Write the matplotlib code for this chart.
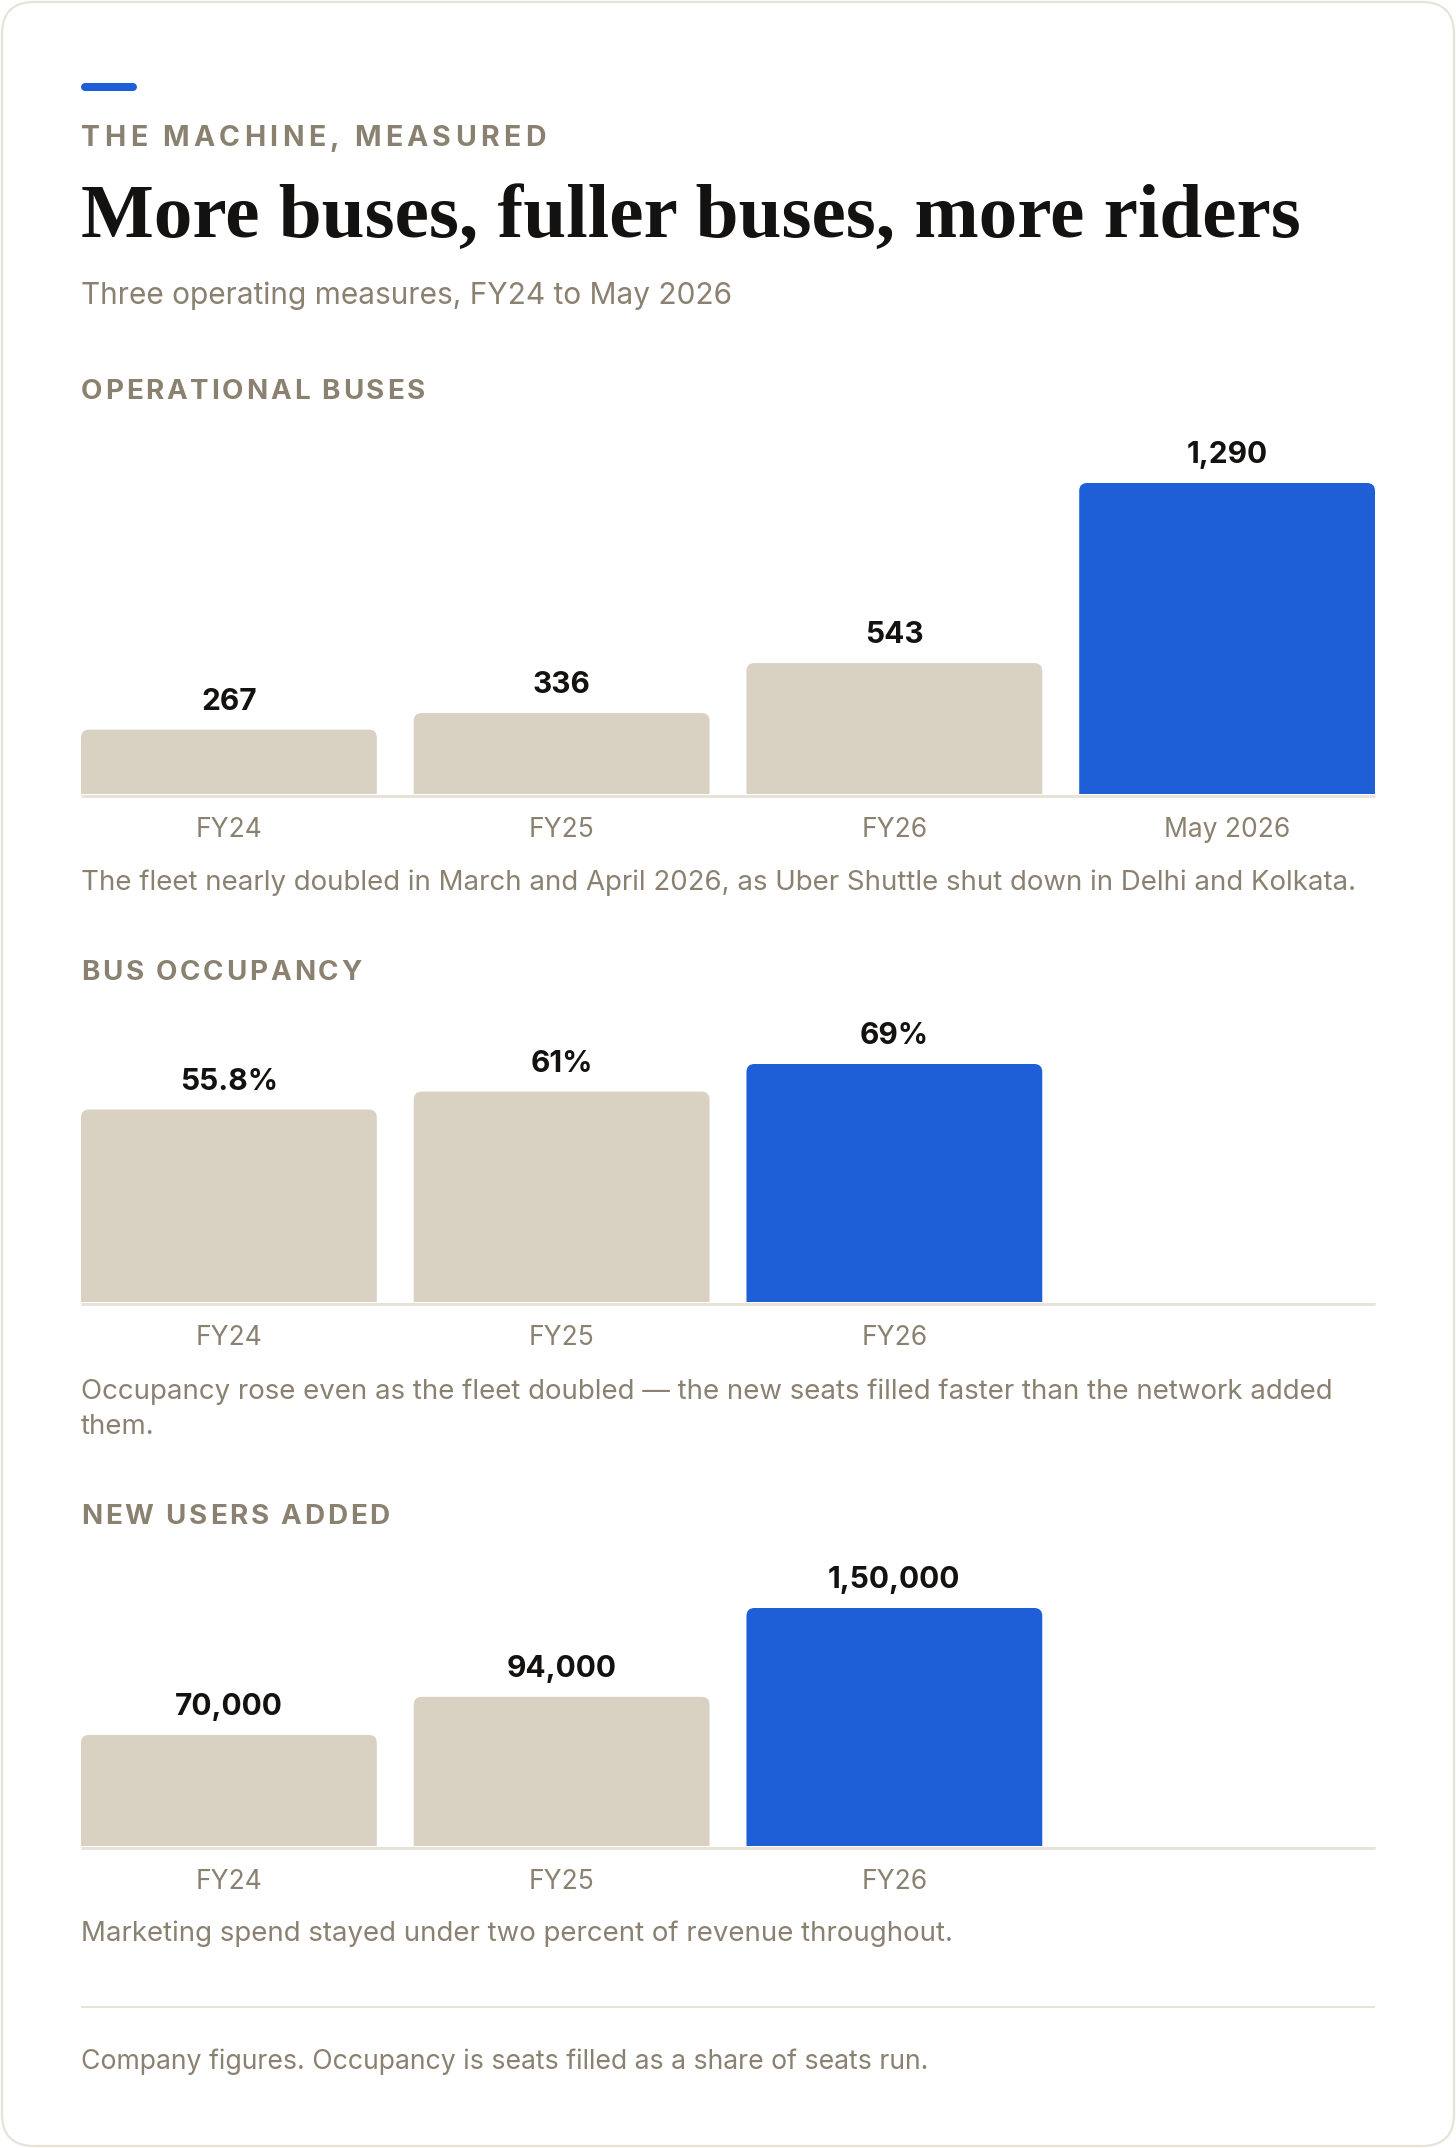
import matplotlib
matplotlib.use("Agg")
import matplotlib.pyplot as plt
from matplotlib.patches import FancyBboxPatch
from matplotlib.lines import Line2D
from matplotlib.transforms import IdentityTransform
from matplotlib.font_manager import FontProperties, findfont
from matplotlib.ft2font import FT2Font

try:
    from matplotlib.ft2font import LoadFlags
    NO_HINT = LoadFlags.NO_HINTING
except ImportError:
    from matplotlib.ft2font import LOAD_NO_HINTING as NO_HINT

# data
fleet_periods = ["FY24", "FY25", "FY26", "May 2026"]
buses = [267, 336, 543, 1290]
periods = ["FY24", "FY25", "FY26"]
occupancy = [55.8, 61, 69]
new_users = [70000, 94000, 150000]

W, H = 1456, 2148
BLUE = "#1e5fd8"
BEIGE = "#d9d1c2"
GREY = "#8b8171"
DARK = "#141210"
RULE = "#e8e3d9"
SANS = "Inter"

fig = plt.figure(figsize=(W / 100, H / 100), dpi=100)
fig.patch.set_facecolor("white")

# card outline
fig.add_artist(FancyBboxPatch((2, 2), W - 4, H - 4,
                              boxstyle="round,pad=0,rounding_size=32",
                              transform=IdentityTransform(),
                              fc="white", ec=RULE, lw=1.6, zorder=0))


def fy(px):
    return 1 - px / H


def indian(n):
    s = str(int(n))
    if len(s) <= 3:
        return s
    head, tail = s[:-3], s[-3:]
    groups = []
    while len(head) > 2:
        groups.insert(0, head[-2:])
        head = head[:-2]
    if head:
        groups.insert(0, head)
    return ",".join(groups + [tail])


def pct(v):
    return f"{v:g}%"


def spaced(x_px, base_px, s, size, track_em, weight="bold"):
    fp = FontProperties(family=SANS, weight=weight, size=size)
    font = FT2Font(findfont(fp))
    font.set_size(size, 100)
    x = x_px
    for ch in s:
        if ch != " ":
            fig.text(x / W, fy(base_px), ch, fontproperties=fp, color=GREY,
                     va="baseline", ha="left")
        adv = font.load_char(ord(ch), flags=NO_HINT).linearHoriAdvance / 65536
        x += adv + track_em * size * 100 / 72


def hline(y_px, lw_px, x0=81, x1=1375):
    fig.add_artist(Line2D([x0, x1], [H - y_px, H - y_px],
                          transform=IdentityTransform(), color=RULE,
                          lw=lw_px * 0.72, solid_capstyle="butt"))


def caption(lines, base_px, size=19.9):
    for i, line in enumerate(lines.split("\n")):
        fig.text(81 / W, fy(base_px + i * 35), line, family=SANS, size=size,
                 color=GREY, va="baseline")


def panel(cats, vals, fmt, baseline_px, max_px, n_slots=4):
    left, right = 81, 1375
    width = 0.889
    ax_h = max_px + 40
    ax = fig.add_axes([left / W, (H - baseline_px) / H, (right - left) / W, ax_h / H])
    ax.set_xlim(-width / 2, n_slots - 1 + width / 2)
    ppu = max_px / max(vals)
    ax.set_ylim(0, ax_h / ppu)
    ax.axis("off")
    px_x = (right - left) / (n_slots - 1 + width)
    r = 8
    for i, (c, v) in enumerate(zip(cats, vals)):
        color = BLUE if i == len(vals) - 1 else BEIGE
        ry = r / ppu
        ax.add_patch(FancyBboxPatch((i - width / 2, -ry), width, v + ry,
                                    boxstyle=f"round,pad=0,rounding_size={r / px_x}",
                                    mutation_aspect=px_x / ppu,
                                    fc=color, ec="none"))
        ax.annotate(fmt(v), (i, v), xytext=(0, 20 * 0.72), textcoords="offset points",
                    ha="center", va="baseline", family=SANS, weight="bold",
                    size=21.5, color=DARK, annotation_clip=False)
        ax.annotate(c, (i, 0), xytext=(0, -43 * 0.72), textcoords="offset points",
                    ha="center", va="baseline", family=SANS, size=19,
                    color=GREY, annotation_clip=False)
    hline(baseline_px + 1.5, 3)
    return ax


# header
fig.add_artist(Line2D([85, 133], [H - 87, H - 87], transform=IdentityTransform(),
                      color=BLUE, lw=8 * 0.72, solid_capstyle="round"))
spaced(81, 146, "THE MACHINE, MEASURED", 20.5, 0.15)
fig.text(81 / W, fy(237), "More buses, fuller buses, more riders",
         family="Liberation Serif", weight="bold", size=55.5, color=DARK, va="baseline")
fig.text(81 / W, fy(304), "Three operating measures, FY24 to May 2026",
         family=SANS, size=21.5, color=GREY, va="baseline")

# panel 1
spaced(81, 399, "OPERATIONAL BUSES", 20, 0.1)
panel(fleet_periods, buses, indian, 794, 311)
caption("The fleet nearly doubled in March and April 2026, as Uber Shuttle shut down in Delhi and Kolkata.", 890)

# panel 2
spaced(81, 980, "BUS OCCUPANCY", 20, 0.1)
panel(periods, occupancy, pct, 1302, 238)
caption("Occupancy rose even as the fleet doubled \u2014 the new seats filled faster than the network added\nthem.", 1399)

# panel 3
spaced(81, 1524, "NEW USERS ADDED", 20, 0.1)
panel(periods, new_users, indian, 1846, 238)
caption("Marketing spend stayed under two percent of revenue throughout.", 1941)

# footer
hline(2006.5, 2)
caption("Company figures. Occupancy is seats filled as a share of seats run.", 2069, size=19.2)

fig.savefig("out.png", dpi=100, facecolor="white")
